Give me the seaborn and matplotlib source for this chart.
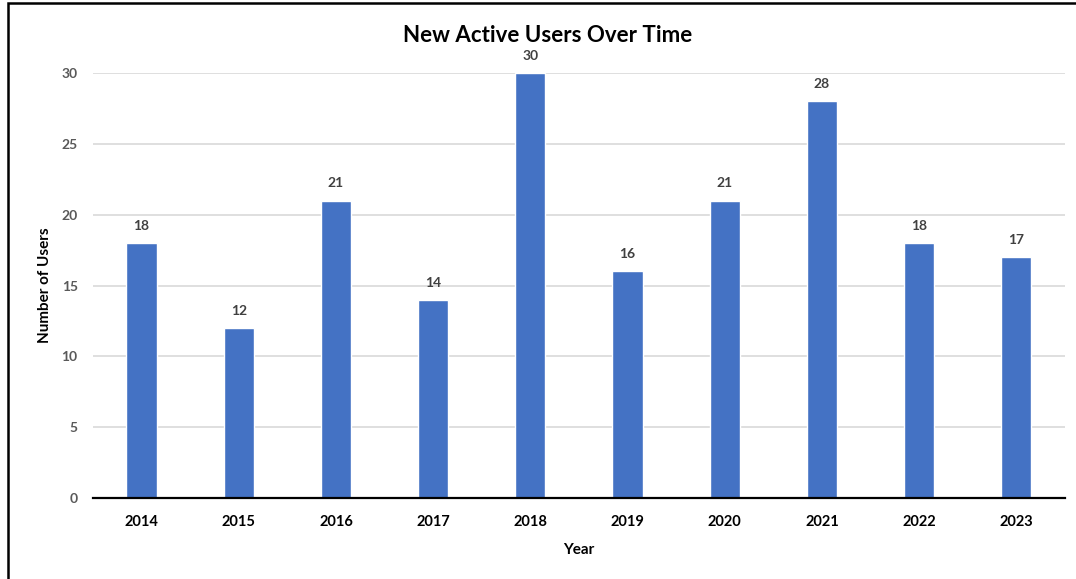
import matplotlib
matplotlib.use("Agg")
import matplotlib.pyplot as plt
import seaborn as sns
import pandas as pd
from matplotlib.patches import Rectangle

years = ["2014", "2015", "2016", "2017", "2018", "2019", "2020", "2021", "2022", "2023"]
users = [18, 12, 21, 14, 30, 16, 21, 28, 18, 17]
y_ticks = [0, 5, 10, 15, 20, 25, 30]

df = pd.DataFrame({"Year": years, "Users": users})

sns.set_theme(style="white")
plt.rcParams["font.family"] = ["Lato", "DejaVu Sans"]

fig = plt.figure(figsize=(10.76, 5.79), dpi=100)
ax = fig.add_axes([0.0864, 0.1399, 0.9033, 0.734])

sns.barplot(data=df, x="Year", y="Users", color="#4472C4", saturation=1,
            width=0.31, ax=ax, zorder=3)

ax.set_ylim(0, 30)
ax.set_xlim(-0.5, len(years) - 0.5)
ax.set_yticks(y_ticks)
ax.yaxis.grid(True, color="#d9d9d9", linewidth=1.2, zorder=0)
ax.set_axisbelow(True)
for side in ["top", "right", "left"]:
    ax.spines[side].set_visible(False)
ax.spines["bottom"].set_color("black")
ax.spines["bottom"].set_linewidth(1.6)
ax.spines["bottom"].set_zorder(4)
ax.tick_params(axis="both", length=0)
ax.tick_params(axis="y", pad=11, labelsize=10, labelcolor="#595959")
ax.tick_params(axis="x", pad=12, labelsize=10.5, labelcolor="black")
for lab in ax.get_xticklabels() + ax.get_yticklabels():
    lab.set_fontweight("bold")

for i, v in enumerate(users):
    ax.annotate(str(v), (i, v), xytext=(0, 8), textcoords="offset points",
                ha="center", va="bottom", fontsize=10, fontweight="bold",
                color="#404040", annotation_clip=False)

ax.set_xlabel("Year", fontsize=11, fontweight="bold", color="black", labelpad=10)
ax.set_ylabel("")
fig.text(45 / 1076, 1 - 285 / 579, "Number of Users", rotation=90,
         ha="center", va="center", fontsize=11, fontweight="bold", color="black")

fig.text(548 / 1076, 1 - 35 / 579, "New Active Users Over Time", ha="center",
         va="center", fontsize=16, fontweight="bold", color="black")

# chart frame: left and top edges visible, right and bottom run off the canvas
fig.patches.append(Rectangle((8 / 1076, -0.01), 1.05, 1 - 3 / 579 + 0.01,
                             transform=fig.transFigure, fill=False,
                             edgecolor="black", linewidth=1.8))

fig.savefig("out.png", dpi=100, facecolor="white")
